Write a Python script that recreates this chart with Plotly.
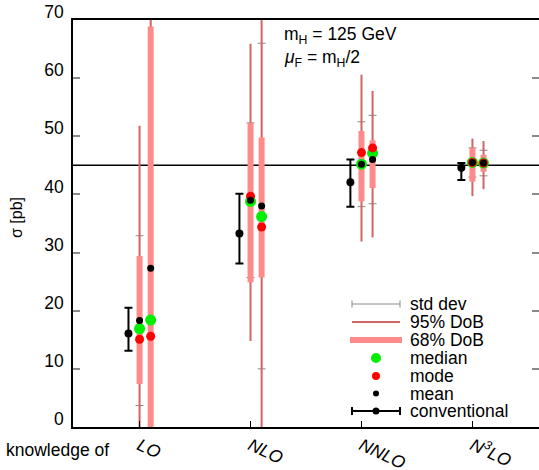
import plotly.graph_objects as go

# ---------------- data ----------------
orders = ["LO", "NLO", "NNLO", "N3LO"]
tick_labels = ["<i>LO</i>", "<i>NLO</i>", "<i>NNLO</i>", "<i>N<sup>3</sup>LO</i>"]
ref_value = 45.0

conv_central = [16.1, 33.3, 42.1, 44.6]
conv_upper = [20.5, 40.1, 46.0, 45.4]
conv_lower = [13.1, 28.1, 37.9, 42.5]

m1_median = [16.9, 38.8, 45.2, 45.5]
m1_mode = [15.1, 39.7, 47.2, 45.5]
m1_mean = [18.3, 39.0, 45.2, 45.5]
m1_std = [14.6, 13.3, 7.3, 2.5]
m1_68_lo = [7.4, 24.9, 38.8, 42.2]
m1_68_hi = [29.4, 52.3, 50.9, 48.0]
m1_95_lo = [0.0, 14.8, 31.9, 39.7]
m1_95_hi = [51.8, 65.9, 60.6, 49.6]

m2_median = [18.4, 36.2, 47.1, 45.4]
m2_mode = [15.6, 34.4, 48.0, 45.4]
m2_mean = [27.3, 38.0, 46.0, 45.4]
m2_std = [45.0, 28.0, 7.6, 2.2]
m2_68_lo = [-0.5, 25.7, 41.1, 43.9]
m2_68_hi = [68.9, 49.8, 49.3, 46.8]
m2_95_lo = [-0.5, -0.5, 32.6, 40.9]
m2_95_hi = [80.0, 80.0, 57.8, 49.2]

# ---------------- styles ----------------
FONT = "Liberation Sans, Arial, Helvetica, sans-serif"
FS = 17.5
C_THIN = "#d46464"
C_THICK = "#ff8a8a"
C_STD = "#8a8a8a"
C_MED = "#00ee00"
C_MODE = "#ff0000"
C_MEAN = "#000000"

pos = list(range(1, len(orders) + 1))
off = 0.1
x_conv = [p - off for p in pos]
x_m1 = [p for p in pos]
x_m2 = [p + off for p in pos]
xs = x_m1 + x_m2

def segs(x, lo, hi):
    X, Y = [], []
    for a, b, c in zip(x, lo, hi):
        X += [a, a, None]
        Y += [b, c, None]
    return X, Y

fig = go.Figure()

# std dev
fig.add_trace(go.Scatter(
    x=xs, y=m1_mean + m2_mean, mode="markers",
    marker=dict(size=1, color="rgba(0,0,0,0)"),
    error_y=dict(type="data", array=m1_std + m2_std, color=C_STD, thickness=1, width=4),
    showlegend=False, hoverinfo="skip"))

# 95% DoB
X, Y = segs(xs, m1_95_lo + m2_95_lo, m1_95_hi + m2_95_hi)
fig.add_trace(go.Scatter(x=X, y=Y, mode="lines", line=dict(color=C_THIN, width=2),
                         showlegend=False, hoverinfo="skip"))
# 68% DoB
X, Y = segs(xs, m1_68_lo + m2_68_lo, m1_68_hi + m2_68_hi)
fig.add_trace(go.Scatter(x=X, y=Y, mode="lines", line=dict(color=C_THICK, width=6),
                         showlegend=False, hoverinfo="skip"))

# conventional
fig.add_trace(go.Scatter(
    x=x_conv, y=conv_central, mode="markers",
    marker=dict(size=8, color="black"),
    error_y=dict(type="data", symmetric=False,
                 array=[u - c for u, c in zip(conv_upper, conv_central)],
                 arrayminus=[c - l for c, l in zip(conv_central, conv_lower)],
                 color="black", thickness=2, width=4),
    showlegend=False))

fig.add_trace(go.Scatter(x=xs, y=m1_median + m2_median, mode="markers",
                         marker=dict(size=11, color=C_MED), showlegend=False))
fig.add_trace(go.Scatter(x=xs, y=m1_mode + m2_mode, mode="markers",
                         marker=dict(size=9, color=C_MODE), showlegend=False))
fig.add_trace(go.Scatter(x=xs, y=m1_mean + m2_mean, mode="markers",
                         marker=dict(size=7, color=C_MEAN), showlegend=False))

# reference line
shapes = [dict(type="line", xref="paper", x0=0, x1=1, yref="y", y0=ref_value, y1=ref_value,
               line=dict(color="black", width=1.5), layer="below")]

# ---------------- manual legend (pixel -> paper) ----------------
L, T, W, H = 73, 20, 466, 407
def px(x):
    return (x - L) / W
def py(y):
    return (T + H - y) / H

lx0, lx1, lxc, tx = 352, 400, 376, 408
rows = [304, 322, 340, 358, 376, 393.5, 411]
names = ["std dev", "95% DoB", "68% DoB", "median", "mode", "mean", "conventional"]

def hline(x0, x1, y, color, width):
    return dict(type="line", xref="paper", yref="paper", x0=px(x0), x1=px(x1),
                y0=py(y), y1=py(y), line=dict(color=color, width=width))
def vline(x, y0, y1, color, width):
    return dict(type="line", xref="paper", yref="paper", x0=px(x), x1=px(x),
                y0=py(y0), y1=py(y1), line=dict(color=color, width=width))
def dot(x, y, d, color):
    r = d / 2
    return dict(type="circle", xref="paper", yref="paper", x0=px(x - r), x1=px(x + r),
                y0=py(y + r), y1=py(y - r), fillcolor=color, line=dict(width=0))

shapes += [hline(lx0, lx1, rows[0], C_STD, 1), vline(lx0, rows[0] - 3.5, rows[0] + 3.5, C_STD, 1),
           vline(lx1, rows[0] - 3.5, rows[0] + 3.5, C_STD, 1)]
shapes += [hline(lx0, lx1, rows[1], C_THIN, 2)]
shapes += [hline(lx0 - 2, lx1 + 2, rows[2], C_THICK, 6)]
shapes += [dot(lxc, rows[3], 10, C_MED)]
shapes += [dot(lxc, rows[4], 8, C_MODE)]
shapes += [dot(lxc, rows[5], 6, C_MEAN)]
shapes += [hline(lx0, lx1, rows[6], "black", 2), vline(lx0, rows[6] - 4, rows[6] + 4, "black", 2),
           vline(lx1, rows[6] - 4, rows[6] + 4, "black", 2), dot(lxc, rows[6], 7, "black")]

annotations = []
for n, r in zip(names, rows):
    annotations.append(dict(text=n, xref="paper", yref="paper", x=px(tx), y=py(r),
                            xanchor="left", yanchor="middle", showarrow=False,
                            font=dict(size=FS, color="black", family=FONT)))

annotations += [
    dict(text="m<sub>H</sub> = 125 GeV", xref="paper", yref="paper", x=px(282), y=py(35),
         xanchor="left", yanchor="middle", showarrow=False, font=dict(size=FS, family=FONT, color="black")),
    dict(text="<i>μ</i><sub>F</sub> = m<sub>H</sub>/2", xref="paper", yref="paper", x=px(282), y=py(58),
         xanchor="left", yanchor="middle", showarrow=False, font=dict(size=FS, family=FONT, color="black")),
    dict(text="σ [pb]", xref="paper", yref="paper", x=px(16), y=py(218), textangle=-90,
         xanchor="center", yanchor="middle", showarrow=False, font=dict(size=16, family=FONT, color="black")),
    dict(text="knowledge of", xref="paper", yref="paper", x=px(4), y=py(450),
         xanchor="left", yanchor="middle", showarrow=False, font=dict(size=FS, family=FONT, color="black")),
]

fig.update_layout(
    width=539, height=470,
    margin=dict(l=L, r=539 - L - W, t=T, b=470 - T - H, autoexpand=False),
    paper_bgcolor="white", plot_bgcolor="white",
    font=dict(family=FONT, size=FS, color="black"),
    showlegend=False,
    shapes=shapes, annotations=annotations,
    xaxis=dict(range=[0.4, 4.6], tickvals=pos, ticktext=tick_labels, tickangle=25,
               ticks="inside", ticklen=6, tickcolor="black", tickwidth=1, automargin=False,
               showline=True, linecolor="black", linewidth=1.5, mirror=True,
               showgrid=False, zeroline=False, tickfont=dict(size=FS, family=FONT)),
    yaxis=dict(range=[0, 70], tickvals=list(range(0, 71, 10)), automargin=False,
               ticks="inside", ticklen=7, tickcolor=C_STD, tickwidth=1.5,
               showline=True, linecolor="black", linewidth=1.5, mirror="ticks",
               showgrid=False, zeroline=False, ticklabelshift=-8, ticklabelstandoff=4,
               tickfont=dict(size=FS, family=FONT)),
)

fig.write_html("out.html", config={"displayModeBar": False},
               post_script="document.body.style.margin='0';document.body.style.padding='0';")
